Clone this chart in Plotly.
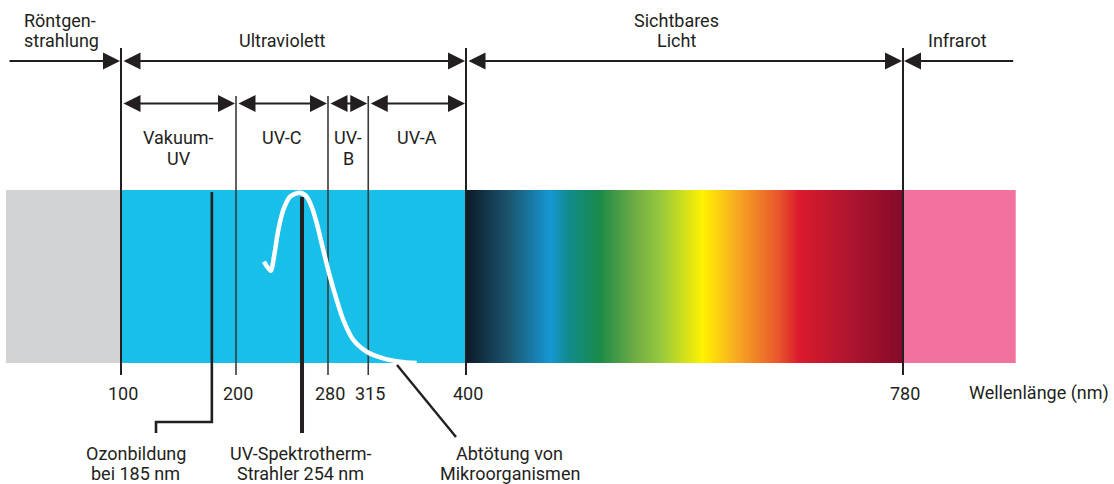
import numpy as np
import plotly.graph_objects as go

# ---------------- data ----------------
region_labels = [["Röntgen-", "strahlung"], ["Ultraviolett"], ["Sichtbares", "Licht"], ["Infrarot"]]
region_bounds = [0, 100, 400, 780, 878]          # nm
region_label_x = [14, 240, 583, 827]              # nm (label centres; first is left edge)
uv_band_labels = [["Vakuum-", "UV"], ["UV-C"], ["UV-", "B"], ["UV-A"]]
uv_bounds = [100, 200, 280, 315, 400]             # nm
tick_values = [100, 200, 280, 315, 400, 780]
tick_labels = ["100", "200", "280", "315", "400", "780"]
axis_title = "Wellenlänge (nm)"

# UV lamp emission curve (relative intensity)
curve_nm = [224.3, 230.2, 233.0, 236.8, 241.1, 247.0, 255.7, 261.5, 265.8, 270.2,
            275.9, 281.7, 287.6, 293.3, 302.0, 313.7, 328.1, 342.6, 357.1]
curve_rel = [0.586, 0.533, 0.614, 0.769, 0.884, 0.961, 0.984, 0.961, 0.903, 0.808,
             0.653, 0.499, 0.364, 0.249, 0.133, 0.065, 0.027, 0.008, 0.0]

# visible spectrum colour stops (nm, colour)
spec_nm = [400, 438, 473, 490, 516, 545, 569, 606, 636, 670, 690, 728, 780]
spec_col = ["#0b1a29", "#1b5670", "#1597d3", "#108b8b", "#1a8a48", "#6aaa45", "#96c83e",
            "#fff200", "#f7a823", "#ea5a2c", "#dc1a2d", "#b3162e", "#860a2a"]

band_colors = ["#d1d3d4", "#17bfe9", None, "#f1719f"]

pointer_labels = [["Ozonbildung", "bei 185 nm"], ["UV-Spektrotherm-", "Strahler 254 nm"],
                  ["Abtötung von", "Mikroorganismen"]]
pointer_nm = [179, 257.4, 340]        # where each pointer touches the spectrum
pointer_text_x = [113, 256.5, 438]    # label centres (nm)

# ---------------- layout helpers (pixel rows -> y units, bar = 0..1) ----------------
def Y(p):
    return (363.0 - p) / 173.0

def Xp(p):
    return (p - 6.0) / 1.15

INK = "#231f20"
FONT = dict(family="Roboto", size=18, color=INK)

fig = go.Figure()
shapes = []
annotations = []

# colour bands
for i, c in enumerate(band_colors):
    if c is None:
        continue
    shapes.append(dict(type="rect", xref="x", yref="y", layer="below",
                       x0=region_bounds[i], x1=region_bounds[i + 1], y0=0, y1=1,
                       fillcolor=c, line=dict(width=0)))

# visible gradient as heatmap
edges = np.linspace(spec_nm[0], spec_nm[-1], 381)
centres = (edges[:-1] + edges[1:]) / 2
cscale = [[(n - spec_nm[0]) / (spec_nm[-1] - spec_nm[0]), c] for n, c in zip(spec_nm, spec_col)]
fig.add_trace(go.Heatmap(x=edges, y=[0, 1], z=[centres], colorscale=cscale,
                         zmin=spec_nm[0], zmax=spec_nm[-1], showscale=False,
                         hoverinfo="skip"))

# boundary lines
major = [region_bounds[1], region_bounds[2], region_bounds[3]]
lx, ly = [], []
for b in major:
    lx += [b, b, None]
    ly += [Y(48), Y(375), None]
fig.add_trace(go.Scatter(x=lx, y=ly, mode="lines", line=dict(color=INK, width=2),
                         hoverinfo="skip", showlegend=False))
lx, ly = [], []
for b in uv_bounds[1:-1]:
    lx += [b, b, None]
    ly += [Y(96), Y(375), None]
fig.add_trace(go.Scatter(x=lx, y=ly, mode="lines", line=dict(color="#3a3a3a", width=1.6),
                         hoverinfo="skip", showlegend=False))

# pointer lines
fig.add_trace(go.Scatter(x=[pointer_nm[0], pointer_nm[0], Xp(156), Xp(156)],
                         y=[Y(192), Y(422), Y(422), Y(433)], mode="lines",
                         line=dict(color=INK, width=2.6), hoverinfo="skip", showlegend=False))
fig.add_trace(go.Scatter(x=[pointer_nm[1], pointer_nm[1]], y=[Y(197), Y(433)], mode="lines",
                         line=dict(color=INK, width=4), hoverinfo="skip", showlegend=False))
fig.add_trace(go.Scatter(x=[pointer_nm[2], Xp(456)], y=[Y(365), Y(437)], mode="lines",
                         line=dict(color=INK, width=2.4), hoverinfo="skip", showlegend=False))

# white emission curve
fig.add_trace(go.Scatter(x=curve_nm, y=curve_rel, mode="lines",
                         line=dict(color="white", width=4.5, shape="spline", smoothing=0.8),
                         hoverinfo="skip", showlegend=False))

# arrows
def arrow(x_head, x_tail, y, both=True):
    annotations.append(dict(x=x_head, y=y, ax=x_tail, ay=y, xref="x", yref="y",
                            axref="x", ayref="y", text="", showarrow=True,
                            arrowhead=2, startarrowhead=2, arrowsize=1.7,
                            startarrowsize=1.7, arrowwidth=2, arrowcolor=INK,
                            arrowside="end+start" if both else "end",
                            standoff=1, startstandoff=1))

row1 = Y(61)
arrow(region_bounds[1], Xp(7), row1, both=False)
arrow(region_bounds[2], region_bounds[1], row1)
arrow(region_bounds[3], region_bounds[2], row1)
arrow(region_bounds[3], region_bounds[4], row1, both=False)
row2 = Y(103.5)
for a, b in zip(uv_bounds[:-1], uv_bounds[1:]):
    arrow(b, a, row2)

def text(x, y, s, xanchor="center"):
    annotations.append(dict(x=x, y=y, xref="x", yref="y", text=s, showarrow=False,
                            xanchor=xanchor, yanchor="middle", font=FONT))

# region labels
for i, lines in enumerate(region_labels):
    xa = "left" if i == 0 else "center"
    if len(lines) == 1:
        text(region_label_x[i], Y(40), lines[0], xa)
    else:
        text(region_label_x[i], Y(20), lines[0], xa)
        text(region_label_x[i], Y(40), lines[1], xa)

# uv band labels
for i, lines in enumerate(uv_band_labels):
    xm = (uv_bounds[i] + uv_bounds[i + 1]) / 2
    text(xm, Y(137), lines[0])
    if len(lines) > 1:
        text(xm, Y(158), lines[1])

# tick labels
for v, s in zip(tick_values, tick_labels):
    text(v + 1.5, Y(393), s)
text(Xp(1111), Y(393), axis_title, "right")

# pointer labels
for xm, lines in zip(pointer_text_x, pointer_labels):
    text(xm, Y(453), lines[0])
    text(xm, Y(473), lines[1])

fig.update_layout(
    width=1114, height=484, margin=dict(l=0, r=0, t=0, b=0),
    paper_bgcolor="white", plot_bgcolor="white",
    xaxis=dict(range=[Xp(0), Xp(1114)], visible=False, fixedrange=True),
    yaxis=dict(range=[Y(484), Y(0)], visible=False, fixedrange=True),
    shapes=shapes, annotations=annotations, showlegend=False,
)
fig.write_html("out.html", config={"displayModeBar": False},
               post_script="document.body.style.margin='0';document.body.style.overflow='hidden';")
